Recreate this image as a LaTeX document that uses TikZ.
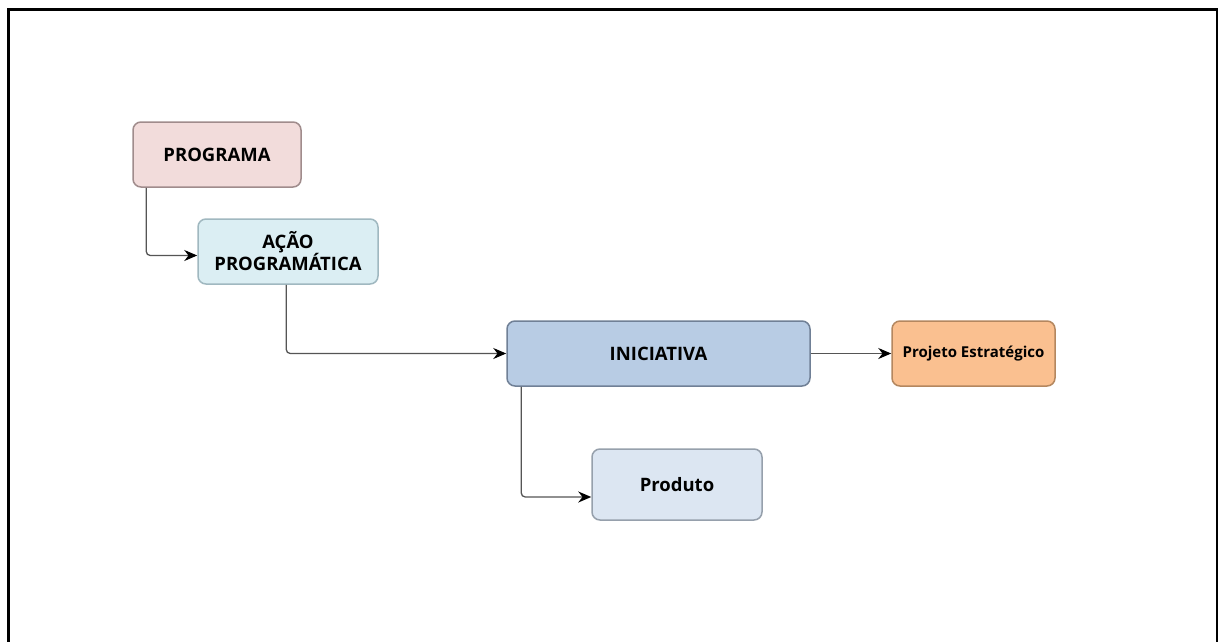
\documentclass[tikz,border=0pt]{standalone}
\usepackage{fontspec}
\setmainfont{Open Sans}
\usetikzlibrary{arrows.meta,calc}
\definecolor{progfill}{RGB}{242,220,219}
\definecolor{progline}{RGB}{160,140,140}
\definecolor{acaofill}{RGB}{219,238,243}
\definecolor{acaoline}{RGB}{160,184,192}
\definecolor{inifill}{RGB}{184,204,228}
\definecolor{iniline}{RGB}{112,128,150}
\definecolor{projfill}{RGB}{250,192,144}
\definecolor{projline}{RGB}{180,135,95}
\definecolor{prodfill}{RGB}{220,230,242}
\definecolor{prodline}{RGB}{150,160,172}
\definecolor{linkgray}{RGB}{85,85,85}
\tikzset{
  box/.style={rounded corners=8pt, line width=1.5pt, inner sep=0pt,
    font=\bfseries, align=center},
  link/.style={draw=linkgray, line width=1.3pt, rounded corners=4pt,
    -{Stealth[length=13pt,width=11pt,fill=black,color=black]}}
}
\begin{document}
\begin{tikzpicture}[x=1pt,y=-1pt]
\useasboundingbox (0,0) rectangle (1218,642);
\fill[white] (0,0) rectangle (1218,642);
% outer frame, open at the bottom
\draw[line width=3pt] (8.5,642) -- (8.5,9.5) -- (1217.5,9.5) -- (1217.5,642);

\node[box, fill=progfill, draw=progline, minimum width=168pt, minimum height=65pt,
  font=\bfseries\fontsize{18.5}{21}\selectfont] (prog) at (217,154.5) {PROGRAMA};
\node[box, fill=acaofill, draw=acaoline, minimum width=180pt, minimum height=65pt,
  font=\bfseries\fontsize{18.5}{22}\selectfont] (acao) at (288,251.5) {AÇÃO\\PROGRAMÁTICA};
\node[box, fill=inifill, draw=iniline, minimum width=303pt, minimum height=65pt,
  font=\bfseries\fontsize{18.5}{21}\selectfont] (ini) at (658.5,353.5) {INICIATIVA};
\node[box, fill=projfill, draw=projline, minimum width=163pt, minimum height=65pt,
  font=\bfseries\fontsize{15}{18}\selectfont] (proj) at (973.5,353.5) {Projeto Estratégico};
\node[box, fill=prodfill, draw=prodline, minimum width=170pt, minimum height=71pt,
  font=\bfseries\fontsize{18.5}{21}\selectfont] (prod) at (677,484.5) {Produto};

\draw[link] ($(prog.south west)+(14,0)$) |- ($(acao.west)+(0,4)$);
\draw[link] ($(acao.south west)+(89,0)$) |- (ini.west);
\draw[link] (ini.east) -- (proj.west);
\draw[link] ($(ini.south west)+(15,0)$) |- ($(prod.west)+(0,12.5)$);
\end{tikzpicture}
\end{document}
